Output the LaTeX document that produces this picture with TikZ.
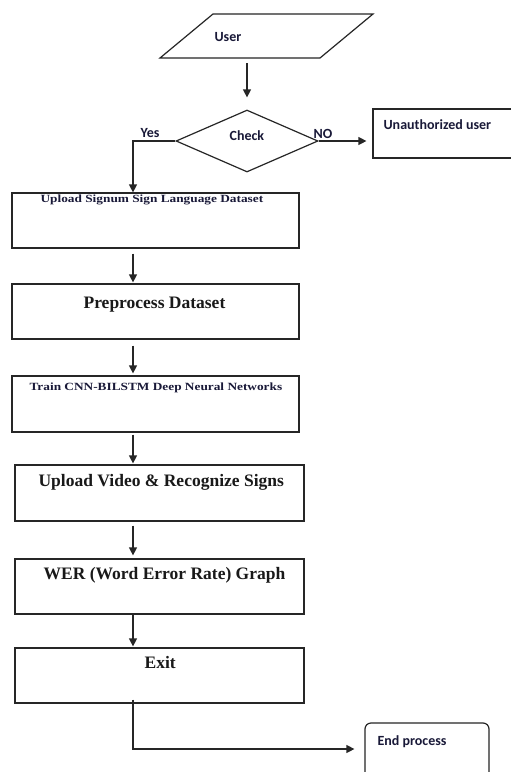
\documentclass[tikz,border=0pt]{standalone}
\usepackage{fontspec}
\usepackage{graphicx}
\setmainfont{Liberation Serif}
\newfontfamily\calib{Carlito}
\usetikzlibrary{shapes.geometric,arrows.meta,calc}
\definecolor{ink}{rgb}{0.10,0.10,0.22}
\begin{document}
\begin{tikzpicture}[x=1pt,y=-1pt,
  line width=1.2pt,
  box/.style={draw=black!85, rectangle, inner sep=0pt},
  arr/.style={draw=black!85, -{Triangle[length=8pt,width=8pt]}},
  lab/.style={anchor=base west, inner sep=0pt, text=ink, font=\calib\bfseries\fontsize{14}{16}\selectfont},
  big/.style={anchor=base west, inner sep=0pt, text=black!90, font=\bfseries\fontsize{17.5}{20}\selectfont},
  small/.style={anchor=base west, inner sep=0pt, text=ink, font=\bfseries\fontsize{11}{13}\selectfont},
]
\useasboundingbox (0,0) rectangle (511,772);
\fill[white] (0,0) rectangle (511,772);
\clip (0,0) rectangle (511,772);

% user parallelogram
\coordinate (utl) at (213,14);
\coordinate (utr) at (373,14);
\coordinate (ubr) at (320,58);
\coordinate (ubl) at (160,58);
\draw[black!85, line join=miter] (utl) -- (utr) -- (ubr) -- (ubl) -- cycle;
\node[lab] (tuser) at (214,41) {User};

% decision
\node[draw=black!85, diamond, minimum width=142pt, minimum height=62pt, aspect=2.29, inner sep=0pt] (chk) at (247,141) {};
\node[lab] (tchk) at (229,140) {Check};
\node[lab] (tyes) at (140,137) {Yes};
\node[lab] (tno) at (313,138) {NO};

\node[box, minimum width=170pt, minimum height=49pt] (unauth) at (458,133.5) {};
\node[lab] (tun) at (383,129) {Unauthorized user};

% process boxes
\node[box, minimum width=287pt, minimum height=55pt] (b1) at (155.5,220.5) {};
\node[box, minimum width=287pt, minimum height=55pt] (b2) at (155.5,311.5) {};
\node[box, minimum width=287pt, minimum height=56pt] (b3) at (155.5,404) {};
\node[box, minimum width=289pt, minimum height=56pt] (b4) at (159.5,493) {};
\node[box, minimum width=289pt, minimum height=55pt] (b5) at (159.5,586.5) {};
\node[box, minimum width=289pt, minimum height=55pt] (b6) at (159.5,675.5) {};
\node[box, rounded corners=6pt, minimum width=124pt, minimum height=80pt] (endp) at (427,763) {};

\node[small] (t1) at (40,202) {\scalebox{1.21}[1]{Upload Signum Sign Language Dataset}};
\node[big] (t2) at (83,308) {Preprocess Dataset};
\node[small] (t3) at (29,390) {\scalebox{1.21}[1]{Train CNN-BILSTM Deep Neural Networks}};
\node[big] (t4) at (38,486) {Upload Video \& Recognize Signs};
\node[big] (t5) at (43,579) {WER (Word Error Rate) Graph};
\node[big] (t6) at (144,668) {Exit};
\node[lab] (t7) at (377,745) {End process};

% connectors
\coordinate (ax) at (133,0);
\draw[arr, shorten <=5pt, shorten >=12pt] (ubl -| chk.north) -- (chk.north);
\draw[arr, shorten >=6pt] (chk.east) -- (chk.east -| unauth.west);
\draw[arr] (chk.west) -| (ax |- b1.north);
\draw[arr, shorten <=5pt, shorten >=1pt] (ax |- b1.south) -- (ax |- b2.north);
\draw[arr, shorten <=6pt, shorten >=2pt] (ax |- b2.south) -- (ax |- b3.north);
\draw[arr, shorten <=2pt, shorten >=1pt] (ax |- b3.south) -- (ax |- b4.north);
\draw[arr, shorten <=4pt, shorten >=3pt] (ax |- b4.south) -- (ax |- b5.north);
\draw[arr, shorten >=1pt] (ax |- b5.south) -- (ax |- b6.north);
\coordinate (turn) at (133,749);
\draw[arr, shorten >=10pt] ($(ax |- b6.south)+(0,-4)$) -- (turn) -- (turn -| endp.west);
\end{tikzpicture}
\end{document}
